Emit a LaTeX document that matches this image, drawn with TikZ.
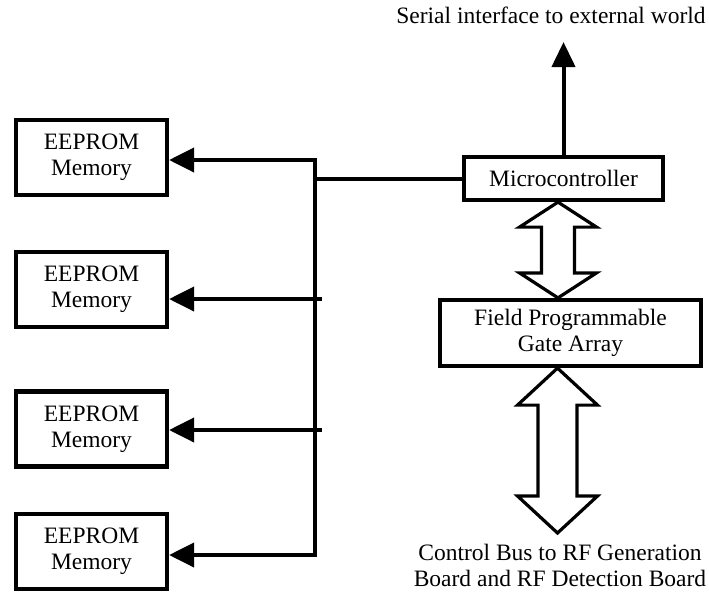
\documentclass[tikz,border=0pt]{standalone}
\usepackage{fontspec}
\setmainfont{Liberation Serif}
\usetikzlibrary{arrows.meta,calc}

\tikzset{
  block/.style={draw, line width=4.2pt, fill=white, align=center, inner sep=0pt},
  memblock/.style={block, minimum width=151pt, minimum height=75pt},
  wire/.style={line width=4pt, line cap=rect},
  arr/.style={wire, -{Triangle[length=25pt,width=24pt]}},
  hollow/.style={draw, line width=3.2pt, line join=miter, fill=white},
  lbl/.style={align=center, inner sep=0pt}
}

% Hollow double-headed bus arrow between two points on one vertical
% #1 top tip, #2 bottom tip, #3 half head width, #4 head length, #5 half shaft width
\newcommand{\busarrow}[5]{%
  \draw[hollow] let \p1=(#1), \p2=(#2) in
    (\x1,\y1) -- (\x1+#3,\y1-#4) -- (\x1+#5,\y1-#4) -- (\x1+#5,\y2+#4)
    -- (\x1+#3,\y2+#4) -- (\x2,\y2) -- (\x1-#3,\y2+#4) -- (\x1-#5,\y2+#4)
    -- (\x1-#5,\y1-#4) -- (\x1-#3,\y1-#4) -- cycle;}

\begin{document}
\fontsize{23.5}{26}\selectfont
\begin{tikzpicture}[x=1pt, y=-1pt]
  \useasboundingbox (0,0) rectangle (709,592);

  % memory column
  \node[memblock] (mem1) at (91.5,157.5) {EEPROM\\Memory};
  \node[memblock] (mem2) at (91.5,289.5) {EEPROM\\Memory};
  \node[memblock] (mem3) at (91.5,429) {EEPROM\\Memory};
  \node[memblock] (mem4) at (91.5,551.5) {EEPROM\\Memory};

  % controller and FPGA
  \node[block, minimum width=199pt, minimum height=43pt] (micro) at (563.5,178.5) {Microcontroller};
  \node[block, minimum width=261pt, minimum height=66pt] (fpga) at (570.5,333)
    {Field Programmable\\Gate Array};

  % labels
  \node[lbl] (serial) at (551,15) {Serial interface to external world};
  \node[lbl] (ctrl) at (560,565) {Control Bus to RF Generation\\Board and RF Detection Board};

  % memory bus
  \coordinate (j1) at (315,160);
  \coordinate (j4) at (315,555);
  \coordinate (t2) at (320,299);
  \coordinate (t3) at (320,430);
  \draw[wire] (micro.west) -- (micro.west -| j1);
  \draw[wire] (j1) -- (j4);
  \draw[arr] (j1) -- (j1 -| mem1.east);
  \draw[arr] (t2) -- (t2 -| mem2.east);
  \draw[arr] (t3) -- (t3 -| mem3.east);
  \draw[arr] (j4) -- (j4 -| mem4.east);

  % serial output
  \coordinate (stip) at (563.5,42);
  \draw[line width=4pt, -{Triangle[length=25pt,width=23pt]}] (micro.north) -- (stip);

  % bus arrows
  \coordinate (ax) at (558,0);
  \coordinate (bx) at (557.5,0);
  \coordinate (btip) at (557.5,533);
  \busarrow{ax |- micro.south}{ax |- fpga.north}{38.5pt}{25pt}{16.5pt}
  \busarrow{bx |- fpga.south}{btip}{40pt}{37pt}{19.5pt}
\end{tikzpicture}
\end{document}
